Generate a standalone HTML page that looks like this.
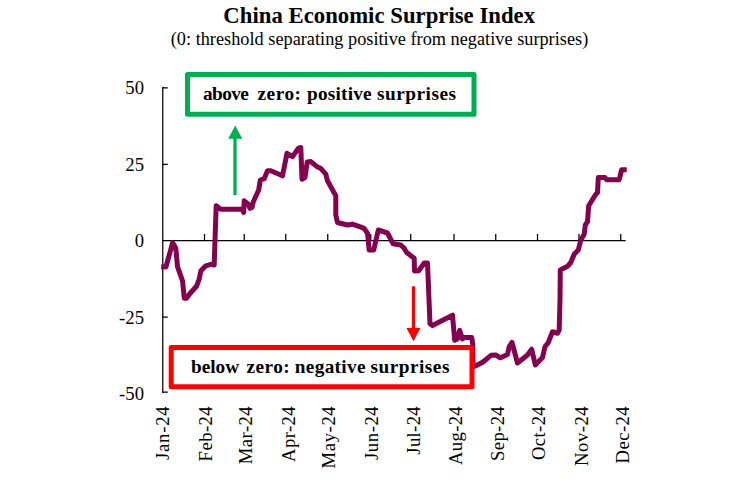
<!DOCTYPE html>
<html><head><meta charset="utf-8"><title>China Economic Surprise Index</title>
<style>
html,body{margin:0;padding:0;background:#fff;}
body{width:756px;height:479px;overflow:hidden;}
svg{display:block;}
text{font-family:"Liberation Serif","Times New Roman",serif;fill:#000;}
</style></head><body>
<svg width="756" height="479" viewBox="0 0 756 479">
<rect width="756" height="479" fill="#fff"/>
<!-- titles -->
<text id="title" x="379.2" y="23" text-anchor="middle" font-size="22.7" font-weight="bold" textLength="311.7">China Economic Surprise Index</text>
<text id="sub" x="379.5" y="44.8" text-anchor="middle" font-size="18.3" textLength="417.5">(0: threshold separating positive from negative surprises)</text>
<!-- axes -->
<g stroke="#000" stroke-width="1.25" fill="none">
<path d="M162.75 87.1v305.6"/>
<path d="M162.1 87.75h5.7M162.1 164.25h5.7M162.1 317.2h5.7M162.1 392.1h5.7"/>
<path d="M162.1 240.6h463.6"/>
<path d="M204.5 234v7M244.25 234v7M285.75 234v7M327.75 234v7M370.75 234v7M410.75 234v7M454 234v7M495.75 234v7M537.5 234v7M579 234v7M620.75 234v7"/>
</g>
<!-- y labels -->
<g font-size="18.7" text-anchor="end">
<text x="144" y="93.8">50</text>
<text x="144" y="170.6">25</text>
<text x="144" y="247">0</text>
<text x="144" y="324.1">-25</text>
<text x="144" y="399.6">-50</text>
</g>
<!-- x labels -->
<g font-size="18.7">
<text transform="translate(169.3 460.0) rotate(-90)" textLength="53.7">Jan-24</text>
<text transform="translate(211.5 461.4) rotate(-90)" textLength="55.1">Feb-24</text>
<text transform="translate(251.5 464.2) rotate(-90)" textLength="57.9">Mar-24</text>
<text transform="translate(295 462.0) rotate(-90)" textLength="55.7">Apr-24</text>
<text transform="translate(335.3 468.4) rotate(-90)" textLength="62.1">May-24</text>
<text transform="translate(378 460.0) rotate(-90)" textLength="53.7">Jun-24</text>
<text transform="translate(419.7 454.7) rotate(-90)" textLength="48.4">Jul-24</text>
<text transform="translate(461.6 465.0) rotate(-90)" textLength="58.7">Aug-24</text>
<text transform="translate(503.8 460.9) rotate(-90)" textLength="54.6">Sep-24</text>
<text transform="translate(545.3 460.0) rotate(-90)" textLength="53.7">Oct-24</text>
<text transform="translate(587.6 465.9) rotate(-90)" textLength="59.6">Nov-24</text>
<text transform="translate(628.8 463.4) rotate(-90)" textLength="57.1">Dec-24</text>
</g>
<!-- series -->
<path id="series" fill="none" stroke="#85004F" stroke-width="5" stroke-linejoin="round" stroke-linecap="butt" d="M161.2 266.8L165.9 267L172.7 242.6L175.8 248.3L177.5 266.7L182.5 280.8L184.3 298.2L186.5 298.2L190 293.5L196.5 286.3L199.3 278.8L200.9 270.8L205.8 265.8L211.7 264.2L214.2 265L215.5 225L216.2 205.8L220.8 209.2L242.3 209.2L243.7 212.4L244.2 200.8L248.3 204.2L250 208.3L252 207.5L253.3 201.7L258.7 190L260.3 180L264.2 178.7L267.5 170.8L270.8 170.8L282.5 175.8L287 153.3L292.5 156.7L298.3 148.3L300.8 147.5L302 179.2L305 177.5L307.2 161.9L310.6 161.5L316.7 166.4L320.5 168.2L325.8 174.2L327.5 180.8L335.8 195.8L335.8 215L337.5 222.5L347.5 225L352.5 224.2L357.5 225.8L364.2 228.3L367.5 233.3L369.2 250L373.7 250L378.3 230L387.5 233L393 243.7L400.8 245L404.2 248.3L406.7 252.5L414.2 258.3L414.5 271L418.7 270.8L424.2 263L427.5 263L430 323.6L432.5 325.4L441.7 320.8L452.5 315.2L454.7 340.2L457.2 339L459.7 330.4L462.3 338.9L464.5 337.6L471.8 337.6L472.8 345L473 367L475.8 365.8L483 362L491 355.3L495.8 355L500.4 357.8L507.5 354.5L509.2 346.7L512 342.5L517.5 363L527.5 355L531.7 349.2L535.3 365L542.5 357.5L545 346.7L548.3 342.5L552.5 331.7L557.5 333.3L559.2 330L560 300L560.3 270L567.5 266.3L570.8 262.5L574.2 254.2L578.3 250L580.8 240L584.2 234.2L585.3 225L587.5 221.7L588.7 205.8L595.8 194.2L597.5 192.5L598.3 177.5L605 177.5L606.7 179.7L619.2 179.7L621.7 169.7L626.7 169.7"/>
<!-- green callout -->
<rect x="187.5" y="74.5" width="286.5" height="39.8" fill="#fff" stroke="#00B050" stroke-width="5" stroke-linejoin="round"/>
<g id="gl" font-size="19.3" font-weight="bold">
<text x="202.9" y="100.2" textLength="46">above</text>
<text x="257.5" y="100.2" textLength="43.5">zero:</text>
<text x="307" y="100.2" textLength="64.6">positive</text>
<text x="377" y="100.2" textLength="79">surprises</text>
</g>
<path d="M235 195V138" stroke="#00B050" stroke-width="3.3" fill="none"/>
<path d="M235.2 125.4L242.3 138.8H228.2Z" fill="#00B050"/>
<!-- red callout -->
<rect x="171.2" y="347.5" width="300.8" height="39.2" fill="#fff" stroke="#FF0000" stroke-width="5" stroke-linejoin="round"/>
<g id="rl" font-size="19.3" font-weight="bold">
<text x="190.9" y="372.5" textLength="48.2">below</text>
<text x="246.5" y="372.5" textLength="43.2">zero:</text>
<text x="294.7" y="372.5" textLength="70.9">negative</text>
<text x="370.6" y="372.5" textLength="78.8">surprises</text>
</g>
<path d="M413.5 286.3V329" stroke="#FF0000" stroke-width="3.3" fill="none"/>
<path d="M413.5 341.3L406.5 328H420.4Z" fill="#FF0000"/>
</svg>
</body></html>
